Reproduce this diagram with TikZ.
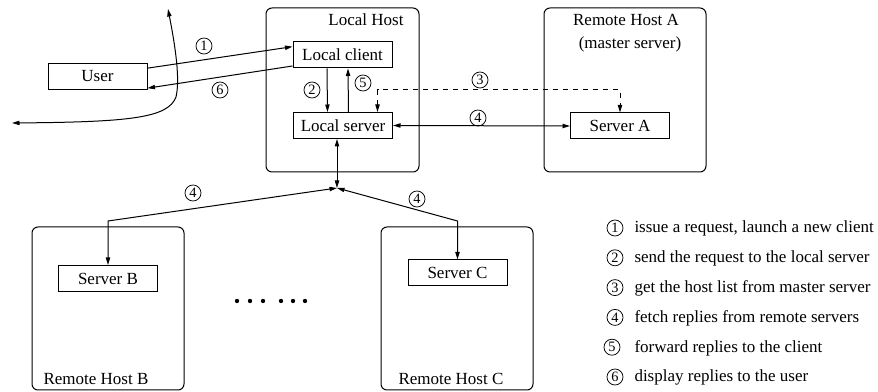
\documentclass[tikz,border=0pt]{standalone}
\usepackage{fontspec}
\setmainfont{Liberation Serif}
\usetikzlibrary{arrows.meta}

\begin{document}
\begin{tikzpicture}[x=0.6pt, y=-0.6pt, line width=0.6pt,
                >={Triangle[length=4.5pt,width=2.6pt]},
                font=\fontsize{10.2}{12}\selectfont,
                num/.style={circle, draw, line width=0.45pt, inner sep=0pt, minimum size=9.6pt, font=\fontsize{8.6}{9}\selectfont}]
        \useasboundingbox (0,0) rectangle (878,392);

        \begin{scope}[rounded corners=3.6pt]
                \draw (266,8) rectangle (419,172);
                \draw (544,8) rectangle (706,172);
                \draw (32,227) rectangle (184,390);
                \draw (381,227) rectangle (533,390);
        \end{scope}

        \begin{scope}[every node/.style={inner sep=1pt}]
                \node (lhost) at (366,20) {Local Host};
                \node (rhosta) at (626,20) {Remote Host A};
                \node (master) at (630,44) {(master server)};
                \node (rhostb) at (96,379) {Remote Host B};
                \node (rhostc) at (451,379) {Remote Host C};
        \end{scope}

        \begin{scope}[every node/.style={draw, minimum width=99*0.6pt, minimum height=26*0.6pt, inner sep=1pt}]
                \node (user) at (97.5,76.5) {User};
                \node (lclient) at (342.5,55) {Local client};
                \node (lserver) at (343,125.5) {Local server};
                \node (srva) at (620,126) {Server A};
                \node (srvb) at (108,278.5) {Server B};
                \node (srvc) at (457.5,273) {Server C};
        \end{scope}

        \coordinate (hub) at (337,188);
        \coordinate (turnb) at (108,221);
        \coordinate (turnc) at (457.5,221);
        \coordinate (dash) at (500,90);
        \coordinate (cuttop) at (168,9);
        \coordinate (cutleft) at (12,123);

        \begin{scope}[every path/.style={->}]
                \draw ([yshift=5pt]user.east) -- ([yshift=5pt]lclient.west);
                \draw ([yshift=-6.6pt]lclient.west) -- ([yshift=-7pt]user.east);
                \draw ([xshift=-9.3pt]lclient.south) -- ([xshift=-9.3pt]lserver.north);
                \draw ([xshift=3.3pt]lserver.north) -- ([xshift=3.3pt]lclient.south);
                \draw [<->, dashed] ([xshift=20.7pt]lserver.north) |- (dash) -| (srva.north);
                \draw [<->] (lserver.east) -- (srva.west);
                \draw [<->] (lserver.south -| hub) -- (hub);
                \draw [<->] (hub) -- (turnb) -- (srvb.north);
                \draw [<->] (hub) -- (turnc) -- (srvc.north);
                \draw [<->] (cuttop) .. controls (176,50) and (180,80) .. (176,97) .. controls (168,118) and (130,122) .. (cutleft);
        \end{scope}

        \foreach \x in {237,250,263,281,293,305}
                \fill (\x,301) circle [radius=1.3pt];

        \node [num] (s1) at (204,46) {1};
        \node [num] (s6) at (220,90) {6};
        \node [num] (s2) at (312,90) {2};
        \node [num] (s5) at (363,83) {5};
        \node [num] (s3) at (480,80) {3};
        \node [num] (s4a) at (478,118) {4};
        \node [num] (s4b) at (193,193) {4};
        \node [num] (s4c) at (417,199) {4};

        \begin{scope}[every node/.style={anchor=base west, inner sep=0pt}]
                \node [num, anchor=center] (k1) at (615,228) {1};
                \node (t1) at (634,233) {issue a request, launch a new client};
                \node [num, anchor=center] (k2) at (615,257.8) {2};
                \node (t2) at (634,262.8) {send the request to the local server};
                \node [num, anchor=center] (k3) at (615,287.6) {3};
                \node (t3) at (634,292.6) {get the host list from master server};
                \node [num, anchor=center] (k4) at (615,317.4) {4};
                \node (t4) at (634,322.4) {fetch replies from remote servers};
                \node [num, anchor=center] (k5) at (612,347.2) {5};
                \node (t5) at (634,352.2) {forward replies to the client};
                \node [num, anchor=center] (k6) at (615,377) {6};
                \node (t6) at (634,382) {display replies to the user};
        \end{scope}
\end{tikzpicture}
\end{document}
